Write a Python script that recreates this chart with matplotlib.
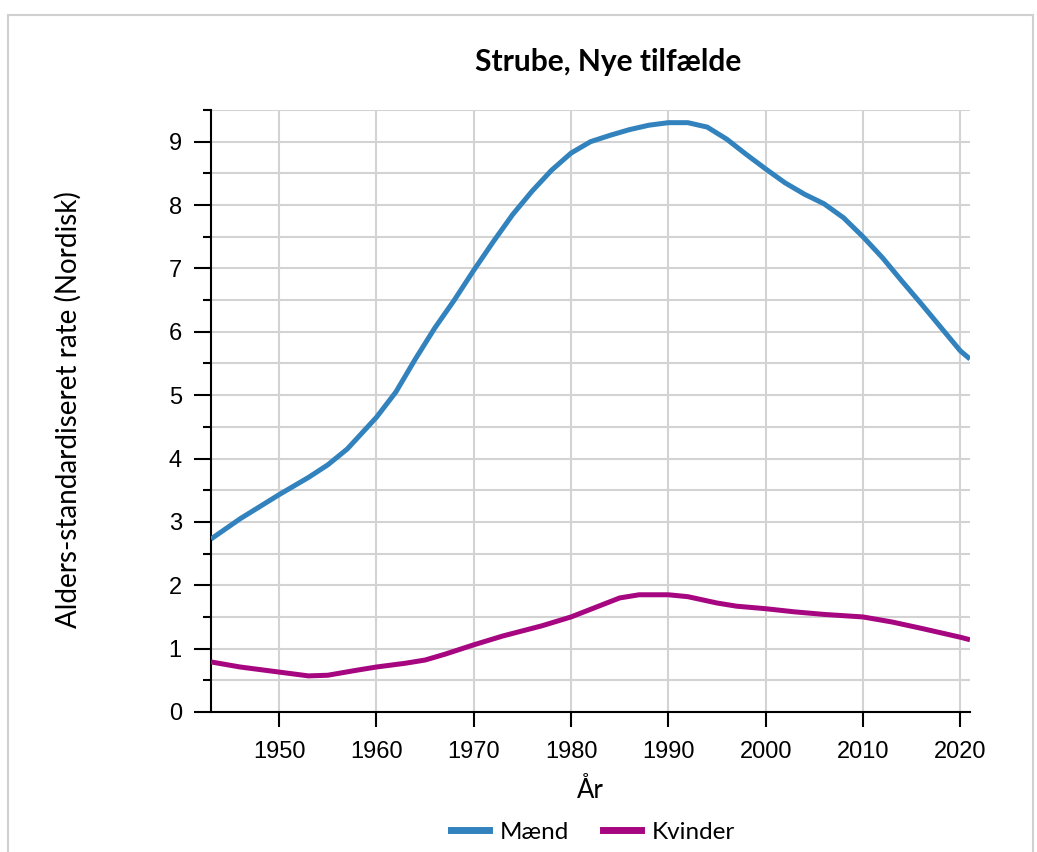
import matplotlib
matplotlib.use("Agg")
import matplotlib.pyplot as plt
from matplotlib.patches import Rectangle
from matplotlib.lines import Line2D

years_m = [1943, 1946, 1950, 1953, 1955, 1957, 1960, 1962, 1964, 1966, 1968, 1970, 1972, 1974,
           1976, 1978, 1980, 1982, 1984, 1986, 1988, 1990, 1992, 1994, 1996, 1998, 2000,
           2002, 2004, 2006, 2008, 2010, 2012, 2014, 2016, 2018, 2020, 2021]
maend = [2.73, 3.05, 3.43, 3.7, 3.9, 4.15, 4.65, 5.05, 5.57, 6.06, 6.5, 6.97, 7.42, 7.85,
         8.22, 8.55, 8.82, 9.0, 9.1, 9.19, 9.26, 9.3, 9.3, 9.23, 9.04, 8.8, 8.57,
         8.35, 8.17, 8.02, 7.8, 7.5, 7.17, 6.8, 6.44, 6.07, 5.7, 5.57]
years_k = [1943, 1946, 1950, 1953, 1955, 1958, 1960, 1963, 1965, 1967, 1970, 1973, 1977, 1980,
           1983, 1985, 1987, 1990, 1992, 1995, 1997, 2000, 2003, 2006, 2010, 2013, 2016, 2020, 2021]
kvinder = [0.79, 0.71, 0.63, 0.57, 0.58, 0.66, 0.71, 0.77, 0.82, 0.91, 1.06, 1.2, 1.36, 1.5,
           1.68, 1.8, 1.85, 1.85, 1.82, 1.72, 1.67, 1.63, 1.58, 1.54, 1.5, 1.42, 1.32, 1.18, 1.14]
series_names = ["Mænd", "Kvinder"]
colors = ["#3182bd", "#a6067f"]
xticks = [1950, 1960, 1970, 1980, 1990, 2000, 2010, 2020]
yticks = [0, 1, 2, 3, 4, 5, 6, 7, 8, 9]

W, H = 1037, 852
fig = plt.figure(figsize=(W / 100, H / 100), dpi=100)
fig.patches.append(Rectangle((8 / W, -0.01), (1033 - 8) / W, (H - 15) / H + 0.01,
                             transform=fig.transFigure, fill=False,
                             edgecolor="#d0d0d0", linewidth=1.5))
ax = fig.add_axes([211 / W, (H - 712) / H, (970 - 211) / W, (712 - 110) / H])

for xs, ys, c in [(years_m, maend, colors[0]), (years_k, kvinder, colors[1])]:
    ax.plot(xs, ys, color=c, lw=3.6, solid_capstyle="butt", solid_joinstyle="round", zorder=3)

ax.set_xlim(1943, 2021)
ax.set_ylim(0, 9.5)
ax.set_xticks(xticks)
ax.set_yticks(yticks)
ax.set_yticks([i + 0.5 for i in range(10)], minor=True)
ax.grid(True, which="both", color="#d3d3d3", lw=1.5, zorder=0)
ax.grid(False, which="minor", axis="x")
for s in ["top", "right"]:
    ax.spines[s].set_visible(False)
for s in ["left", "bottom"]:
    ax.spines[s].set_linewidth(1.5)
ax.tick_params(axis="y", which="major", length=12, width=1.5, labelsize=17, pad=9)
ax.tick_params(axis="y", which="minor", length=6, width=1.5)
ax.tick_params(axis="x", which="major", length=11, width=1.5, labelsize=17, pad=10)
for lab in ax.get_xticklabels() + ax.get_yticklabels():
    lab.set_fontfamily("Liberation Sans")

fig.text(608 / W, 1 - 62 / H, "Strube, Nye tilfælde", ha="center", va="center",
         fontsize=21.5, fontweight="bold", family="Lato")
fig.text(68 / W, 1 - 410 / H, "Alders-standardiseret rate (Nordisk)", rotation=90,
         ha="center", va="center", fontsize=20, family="Lato")
fig.text(590 / W, 1 - 790 / H, "År", ha="center", va="center", fontsize=18.5, family="Lato")

handles = [Line2D([], [], color=c, lw=5) for c in colors]
fig.legend(handles, series_names, loc="center", bbox_to_anchor=(593 / W, 1 - 832 / H),
           ncol=2, frameon=False, prop={"family": "Lato", "size": 17.5},
           handlelength=1.55, columnspacing=1.4, handletextpad=0.45)

fig.savefig("out.png", dpi=100)
